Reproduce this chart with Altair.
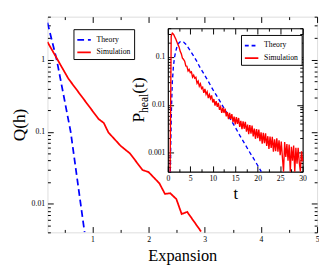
import altair as alt
import pandas as pd

FONT = "Liberation Serif"
SERIES = ["Theory", "Simulation"]
COLORS = ["#0000ff", "#ff0000"]

# ---------------- main panel: Q(h) vs Expansion ----------------
main_theory_h = [0.2, 0.365, 0.613, 0.861]
main_theory_q = [3.3, 1.0, 0.1, 0.004]
main_sim_h = [0.2, 0.571, 1.109, 1.203, 1.285, 1.505, 1.67, 1.891, 2.0, 2.193,
              2.292, 2.386, 2.495, 2.589, 2.688, 2.935]
main_sim_q = [1.78, 0.551, 0.151, 0.133, 0.098, 0.0636, 0.050, 0.0295, 0.0276, 0.0192,
              0.0137, 0.014, 0.0116, 0.0072, 0.0077, 0.0041]

main_x_ticks = [0.5, 1, 1.5, 2, 2.5, 3, 3.5, 4, 4.5, 5]
main_x_major = [1, 2, 3, 4, 5]
main_y_ticks = [0.004, 0.005, 0.006, 0.007, 0.008, 0.009, 0.01,
                0.02, 0.03, 0.04, 0.05, 0.06, 0.07, 0.08, 0.09, 0.1,
                0.2, 0.3, 0.4, 0.5, 0.6, 0.7, 0.8, 0.9, 1, 2, 3, 4]
main_y_major = [0.01, 0.1, 1]

# ---------------- inset: P_heal(t) vs t ----------------
inset_theory_t = [0.55, 0.65, 0.8, 1.0, 1.25, 1.5, 1.75, 2.0, 2.5, 2.9, 3.5, 4.0, 4.5,
                  5.0, 5.75, 6.5, 7.1, 8, 9, 10, 11, 12, 13, 14, 15, 16, 17, 18, 19,
                  20, 20.8]
inset_theory_p = [0.0001, 0.0015, 0.008, 0.03, 0.065, 0.1, 0.13, 0.16, 0.2, 0.214,
                  0.205, 0.185, 0.16, 0.135, 0.105, 0.08, 0.062, 0.045, 0.031, 0.021,
                  0.0148, 0.0102, 0.0071, 0.0049, 0.0034, 0.0023, 0.0016, 0.0011,
                  0.00078, 0.00054, 0.0004]

inset_sim_t = [i / 4 for i in range(2, 121)]
inset_sim_p = [
    0.0001, 0.275, 0.316, 0.302, 0.269, 0.240, 0.209, 0.182, 0.162, 0.132,
    0.117, 0.095, 0.089, 0.082, 0.065, 0.064, 0.051, 0.055, 0.047, 0.049,
    0.038, 0.042, 0.036, 0.0376, 0.0282, 0.0313, 0.0245, 0.0275, 0.0219, 0.0234,
    0.0178, 0.0216, 0.0166, 0.0188, 0.0138, 0.0164, 0.0135, 0.0157, 0.0112, 0.0132,
    0.00966, 0.0120, 0.00912, 0.0110, 0.00785, 0.00912, 0.00676, 0.00871, 0.00676, 0.00832,
    0.00575, 0.00708, 0.00501, 0.00676, 0.00501, 0.00638, 0.00437, 0.00569, 0.00389, 0.00556,
    0.00398, 0.00531, 0.00347, 0.00462, 0.00309, 0.00452, 0.00316, 0.00442, 0.00275, 0.00385,
    0.00245, 0.00376, 0.00251, 0.00367, 0.00219, 0.0032, 0.00195, 0.00313, 0.002, 0.00305,
    0.00174, 0.00266, 0.00155, 0.0026, 0.00158, 0.00254, 0.00138, 0.00221, 0.0012, 0.00216,
    0.00126, 0.00214, 0.00105, 0.00191, 0.00107, 0.002, 0.00105, 0.00182, 0.00089, 0.0017,
    0.00079, 0.0002, 0.00166, 0.00081, 0.00151, 0.00068, 0.00148, 0.0002, 0.00132, 0.00068,
    0.00141, 0.0002, 0.00126, 0.00059, 0.00126, 0.00063, 0.0002, 0.00107, 0.00066,
]

inset_x_ticks = [0, 2.5, 5, 7.5, 10, 12.5, 15, 17.5, 20, 22.5, 25, 27.5, 30]
inset_x_major = [0, 5, 10, 15, 20, 25, 30]
inset_y_ticks = [0.0004, 0.0005, 0.0006, 0.0007, 0.0008, 0.0009, 0.001,
                 0.002, 0.003, 0.004, 0.005, 0.006, 0.007, 0.008, 0.009, 0.01,
                 0.02, 0.03, 0.04, 0.05, 0.06, 0.07, 0.08, 0.09, 0.1, 0.2, 0.3, 0.4]
inset_y_major = [0.001, 0.01, 0.1]

inset_title_parts = ["P", "heal", "(t)"]

# ---------------- layout (pixels) ----------------
W, H = 280, 224                      # main plot area
IL, IR, IT, IB = 125, 265, 12, 161   # inset box inside the main plot area


def make_axis(orient, ticks, major, show_labels, title=None, title_size=17,
              label_pad=9, title_pad=2, offset=0, domain=False):
    arr = "[" + ",".join(repr(float(v)) for v in major) + "]"
    is_major = f"indexof({arr}, datum.value) >= 0"
    kw = dict(orient=orient, values=ticks, grid=False, offset=offset,
              tickSize=alt.ExprRef(expr=f"{is_major} ? -6 : -3"),
              tickColor="black", tickWidth=1, labelOverlap=False, labelFlush=False)
    if domain:
        kw.update(domain=True, domainColor="black", domainWidth=1.2)
    else:
        kw.update(domain=False)
    if show_labels:
        kw.update(labels=True,
                  labelExpr=f"{is_major} ? format(datum.value, '~g') : ''",
                  labelFont=FONT, labelFontSize=8, labelColor="black",
                  labelPadding=label_pad)
    else:
        kw.update(labels=False)
    if title:
        kw.update(title=title, titleFont=FONT, titleFontSize=title_size,
                  titleFontWeight="normal", titleColor="black", titlePadding=title_pad)
    else:
        kw.update(title=None)
    return alt.Axis(**kw)


def make_legend(x, y):
    return alt.Legend(title=None, orient="none", legendX=x, legendY=y,
                      direction="vertical", strokeColor="black", fillColor="white",
                      padding=3, cornerRadius=0, labelFont=FONT, labelFontSize=8,
                      labelColor="black", symbolType="stroke", symbolSize=196,
                      symbolStrokeWidth=1.8, rowPadding=1, labelOffset=5)


# ---------------- main panel ----------------
main_df = pd.DataFrame({
    "h": main_theory_h + main_sim_h,
    "q": main_theory_q + main_sim_q,
    "series": ["Theory"] * len(main_theory_h) + ["Simulation"] * len(main_sim_h),
})
mx = alt.Scale(domain=[0.2, 5], nice=False, zero=False)
my = alt.Scale(type="log", domain=[0.004, 4], nice=False)

main_leg = make_legend(27, 13)
main_lines = alt.Chart(main_df).mark_line(strokeWidth=1.8, clip=True).encode(
    x=alt.X("h:Q", scale=mx,
            axis=make_axis("bottom", main_x_ticks, main_x_major, True, "Expansion", 17, 9, 2)),
    y=alt.Y("q:Q", scale=my,
            axis=make_axis("left", main_y_ticks, main_y_major, True, "Q(h)", 18, 9, 3)),
    color=alt.Color("series:N", scale=alt.Scale(domain=SERIES, range=COLORS), legend=main_leg),
    strokeDash=alt.StrokeDash("series:N",
                              scale=alt.Scale(domain=SERIES, range=[[7, 4], [1, 0]]),
                              legend=main_leg),
)
main_mirror = alt.Chart(main_df).mark_line(opacity=0).encode(
    x=alt.X("h:Q", scale=mx, axis=make_axis("top", main_x_ticks, main_x_major, False)),
    y=alt.Y("q:Q", scale=my, axis=make_axis("right", main_y_ticks, main_y_major, False)),
)

# ---------------- inset panel ----------------
inset_df = pd.DataFrame({
    "t": inset_theory_t + inset_sim_t,
    "p": inset_theory_p + inset_sim_p,
    "series": ["Theory"] * len(inset_theory_t) + ["Simulation"] * len(inset_sim_t),
})
ix = alt.Scale(domain=[0, 30], nice=False, zero=False, range=[IL, IR])
iy = alt.Scale(type="log", domain=[0.0004, 0.4], nice=False, clamp=True, range=[IB, IT])

ins_leg = make_legend(IR - 64, IT + 7)
inset_lines = alt.Chart(inset_df).mark_line(strokeWidth=1.4).encode(
    x=alt.X("t:Q", scale=ix,
            axis=make_axis("bottom", inset_x_ticks, inset_x_major, True, "t", 17, 9, 1,
                           offset=IB - H, domain=True)),
    y=alt.Y("p:Q", scale=iy,
            axis=make_axis("left", inset_y_ticks, inset_y_major, True,
                           offset=-IL, domain=True)),
    color=alt.Color("series:N", scale=alt.Scale(domain=SERIES, range=COLORS), legend=ins_leg),
    strokeDash=alt.StrokeDash("series:N",
                              scale=alt.Scale(domain=SERIES, range=[[4, 3], [1, 0]]),
                              legend=ins_leg),
)
inset_mirror = alt.Chart(inset_df).mark_line(opacity=0).encode(
    x=alt.X("t:Q", scale=ix, axis=make_axis("top", inset_x_ticks, inset_x_major, False,
                                            offset=-IT, domain=True)),
    y=alt.Y("p:Q", scale=iy, axis=make_axis("right", inset_y_ticks, inset_y_major, False,
                                            offset=IR - W, domain=True)),
)


def title_part(i, fs, xpos, ypos):
    return alt.Chart(pd.DataFrame({"s": [inset_title_parts[i]]})).mark_text(
        angle=270, align="left", baseline="alphabetic", font=FONT, fontSize=fs,
        color="black").encode(text="s:N", x=alt.value(xpos), y=alt.value(ypos))


chart = alt.layer(
    main_lines, main_mirror, inset_lines, inset_mirror,
    title_part(0, 18, IL - 25, 110),
    title_part(1, 12, IL - 21, 100),
    title_part(2, 18, IL - 25, 80),
).resolve_scale(
    x="independent", y="independent", color="independent", strokeDash="independent"
).properties(
    width=W, height=H, padding={"left": 3, "top": 0, "right": 0, "bottom": 0}
).configure_view(stroke="black", strokeWidth=1.2).configure(background="white")

chart.save("out.html", embed_options={"renderer": "svg", "actions": False})
